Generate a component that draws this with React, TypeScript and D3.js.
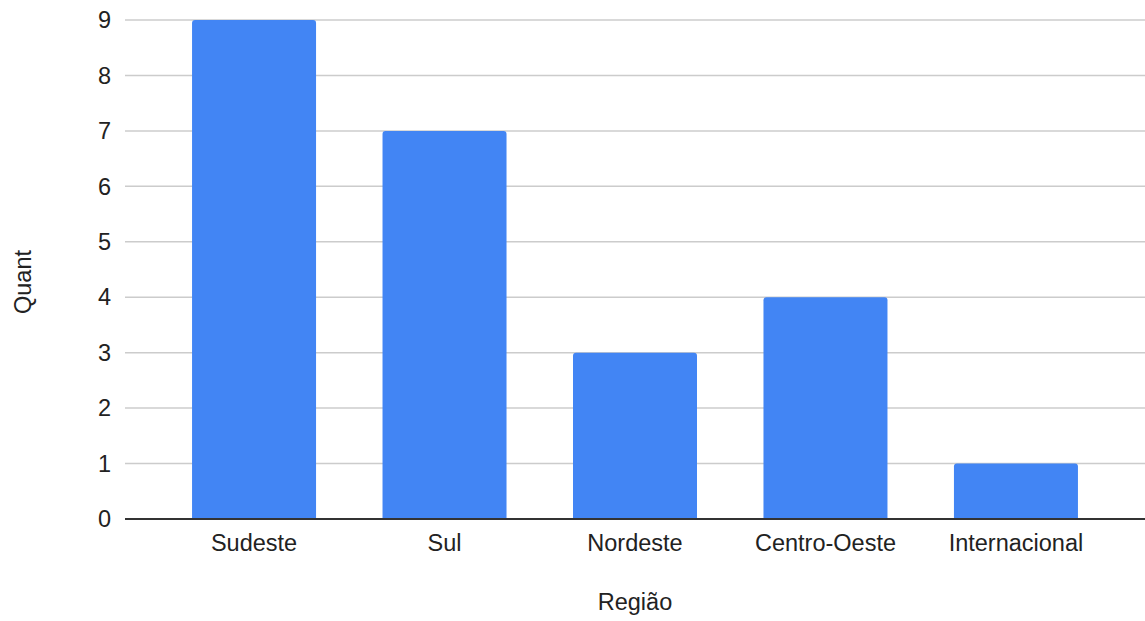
import React from "react";
import * as d3 from "d3";

const categories = ["Sudeste", "Sul", "Nordeste", "Centro-Oeste", "Internacional"];
const values = [9, 7, 3, 4, 1];
const yTicks = [0, 1, 2, 3, 4, 5, 6, 7, 8, 9];
const xTitle = "Região";
const yTitle = "Quant";

const W = 1145;
const H = 621;
const left = 125;
const right = 1145;
const top = 20;
const bottom = 519;

export default function App() {
  const x = d3.scaleBand<string>().domain(categories).range([left, right]).paddingInner(0.349).paddingOuter(0.352);
  const y = d3.scaleLinear().domain([0, 9]).range([bottom, top]);
  const r = 3;
  const barPath = (cx: number, bw: number, y0: number, y1: number) => {
    const p = d3.path();
    p.moveTo(cx, y0);
    p.lineTo(cx, y1 + r);
    p.quadraticCurveTo(cx, y1, cx + r, y1);
    p.lineTo(cx + bw - r, y1);
    p.quadraticCurveTo(cx + bw, y1, cx + bw, y1 + r);
    p.lineTo(cx + bw, y0);
    p.closePath();
    return p.toString();
  };
  const font = "'Liberation Sans', Arial, sans-serif";
  const fs = 23.5;
  return (
    <svg width={W} height={H} style={{ position: "absolute", left: 0, top: 0, background: "#fff" }} fontFamily={font}>
      {yTicks.map((t) => (
        <g key={t}>
          {t !== 0 && <line x1={left} x2={right} y1={y(t)} y2={y(t)} stroke="#cccccc" strokeWidth={1.5} />}
          <text x={111} y={y(t)} dy="0.35em" textAnchor="end" fontSize={fs} fill="#222">{t}</text>
        </g>
      ))}
      {categories.map((c, i) => (
        <path key={c} d={barPath(x(c)!, x.bandwidth(), y(0), y(values[i]))} fill="#4285f4" />
      ))}
      <line x1={left} x2={right} y1={y(0)} y2={y(0)} stroke="#333" strokeWidth={2} />
      {categories.map((c) => (
        <text key={c} x={x(c)! + x.bandwidth() / 2} y={551} textAnchor="middle" fontSize={fs} fill="#222">{c}</text>
      ))}
      <text x={635} y={610} textAnchor="middle" fontSize={fs} fill="#222">{xTitle}</text>
      <text transform={`translate(31,282) rotate(-90)`} textAnchor="middle" fontSize={fs} fill="#222">{yTitle}</text>
    </svg>
  );
}
